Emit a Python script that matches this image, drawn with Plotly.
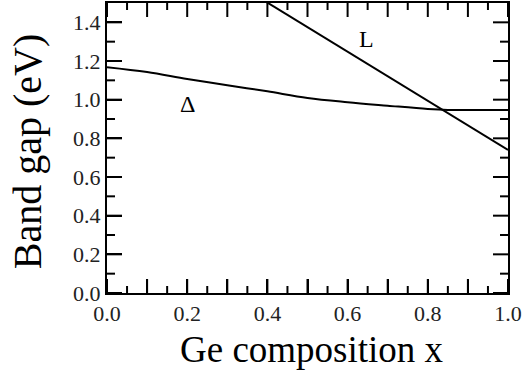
import plotly.graph_objects as go

# Ge composition (x) and band gaps (eV) of Si(1-x)Ge(x)
delta_x = [0.0, 0.1, 0.2, 0.3, 0.4, 0.5, 0.6, 0.7, 0.8, 0.85, 0.9, 1.0]
delta_gap = [1.168, 1.143, 1.107, 1.075, 1.043, 1.009, 0.987, 0.969, 0.952, 0.947, 0.947, 0.947]
l_x = [0.0, 1.0]
l_gap = [2.01, 0.74]

x_tickvals = [0.0, 0.1, 0.2, 0.3, 0.4, 0.5, 0.6, 0.7, 0.8, 0.9, 1.0]
x_ticktext = ["0.0", "", "0.2", "", "0.4", "", "0.6", "", "0.8", "", "1.0"]
y_tickvals = [0.0, 0.2, 0.4, 0.6, 0.8, 1.0, 1.2, 1.4]
y_ticktext = ["0.0", "0.2", "0.4", "0.6", "0.8", "1.0", "1.2", "1.4"]

serif = "Liberation Serif"
ink = "black"

fig = go.Figure()
fig.add_trace(go.Scatter(x=delta_x, y=delta_gap, mode="lines",
                         line=dict(color=ink, width=2, shape="spline", smoothing=1.0),
                         showlegend=False, hoverinfo="skip"))
fig.add_trace(go.Scatter(x=l_x, y=l_gap, mode="lines",
                         line=dict(color=ink, width=2),
                         showlegend=False, hoverinfo="skip"))

fig.add_annotation(x=0.647, y=1.315, text="L", showarrow=False,
                   font=dict(family=serif, size=24, color=ink))
fig.add_annotation(x=0.2015, y=0.98, text="Δ", showarrow=False,
                   font=dict(family=serif, size=24, color=ink))

# axis titles
fig.add_annotation(xref="paper", yref="paper", x=0.511, y=-0.194,
                   xanchor="center", yanchor="middle", showarrow=False,
                   text="Ge composition x", font=dict(family=serif, size=37, color=ink))
fig.add_annotation(xref="paper", yref="paper", x=-0.199, y=0.486,
                   xanchor="center", yanchor="middle", showarrow=False, textangle=-90,
                   text="Band gap (eV)", font=dict(family=serif, size=40, color=ink))


def midpoints(vals):
    return [(a + b) / 2 for a, b in zip(vals[:-1], vals[1:])]


def tick_marks(vals, length, along):
    """Inward tick marks on both sides of the frame, in pixel length."""
    tick_line = dict(color=ink, width=2)
    for v in vals:
        for anchor, sign in ((0, 1), (1, -1)):
            if along == "x":
                fig.add_shape(type="line", xref="x", yref="paper",
                              ysizemode="pixel", yanchor=anchor,
                              x0=v, x1=v, y0=0, y1=sign * length, line=tick_line)
            else:
                fig.add_shape(type="line", xref="paper", yref="y",
                              xsizemode="pixel", xanchor=anchor,
                              x0=0, x1=sign * length, y0=v, y1=v, line=tick_line)


tick_marks(x_tickvals, 14, "x")
tick_marks(midpoints(x_tickvals), 7, "x")
tick_marks(y_tickvals, 15, "y")
tick_marks(midpoints(y_tickvals), 8, "y")

fig.update_xaxes(range=[0, 1], tickmode="array", tickvals=x_tickvals, ticktext=x_ticktext,
                 showgrid=False, zeroline=False, showline=True, linecolor=ink, linewidth=2,
                 mirror=True, ticks="inside", ticklen=14, tickwidth=2, tickcolor=ink,
                 tickfont=dict(family=serif, size=22, color="#222222"))
fig.update_yaxes(range=[0, 1.5], tickmode="array", tickvals=y_tickvals, ticktext=y_ticktext,
                 showgrid=False, zeroline=False, showline=True, linecolor=ink, linewidth=2,
                 mirror=True, ticks="inside", ticklen=15, tickwidth=2, tickcolor=ink,
                 tickfont=dict(family=serif, size=22, color="#222222"))

fig.update_layout(width=523, height=380,
                  margin=dict(l=107, r=14, t=1, b=87),
                  paper_bgcolor="white", plot_bgcolor="white",
                  font=dict(family=serif))

fig.write_html("out.html")
